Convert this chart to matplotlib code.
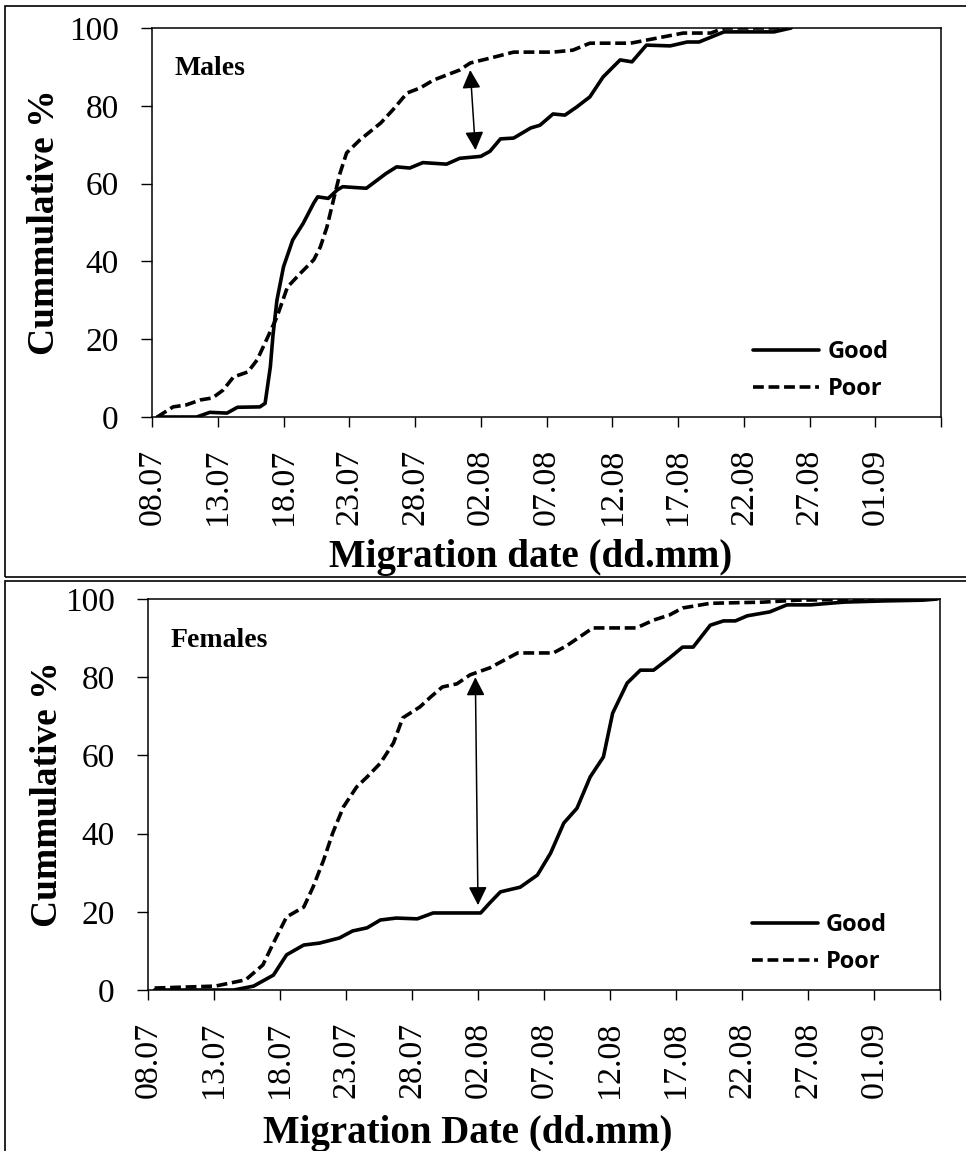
import matplotlib
matplotlib.use("Agg")
import numpy as np
import matplotlib.pyplot as plt
from matplotlib.patches import Rectangle

# days after 08.07
date_labels = ["08.07", "13.07", "18.07", "23.07", "28.07", "02.08",
               "07.08", "12.08", "17.08", "22.08", "27.08", "01.09"]

males_good_day = [0.4, 3.4, 4.4, 5.7, 6.5, 8.2, 8.6, 9.0, 9.2, 9.5, 10.0, 10.7, 11.5, 12.3,
                  12.6, 13.4, 14.1, 14.5, 16.3, 17.8, 18.6, 19.6, 20.6, 22.4, 23.4, 25.0,
                  25.7, 26.5, 27.5, 28.8, 29.5, 30.5, 31.4, 32.3, 33.3, 34.3, 35.6, 36.5,
                  37.6, 39.4, 40.7, 41.6, 43.5, 47.3, 48.6]
males_good_pct = [0, 0, 1.2, 1.0, 2.5, 2.6, 3.5, 12.9, 21, 30, 38.6, 45.5, 49.8, 55,
                  56.6, 56.2, 58.4, 59.2, 58.8, 62.6, 64.3, 64, 65.4, 65, 66.5, 67,
                  68.3, 71.5, 71.7, 74.3, 75, 77.9, 77.6, 79.7, 82.3, 87.4, 91.8, 91.3,
                  95.6, 95.4, 96.4, 96.4, 99, 99, 100]

males_poor_day = [0.4, 1.6, 2.6, 3.7, 4.6, 5.4, 6.2, 7.3, 8.0, 8.7, 9.5, 10.3, 11.3, 12.3,
                  12.8, 13.3, 13.8, 14.3, 14.8, 15.8, 17.4, 18.3, 19.4, 20.4, 21.4, 23.4,
                  24.2, 26.0, 27.5, 30.5, 32.0, 33.3, 36.4, 38.4, 40.4, 42.5, 43.5, 48.6]
males_poor_pct = [0, 2.6, 3.1, 4.4, 4.9, 6.9, 10.3, 11.6, 14.7, 19.8, 25.7, 33.4, 37, 40.4,
                  43.7, 48.8, 55.8, 62.7, 67.9, 71.2, 75.6, 78.9, 83.3, 84.6, 86.6, 89.2,
                  91, 92.5, 93.8, 93.8, 94.3, 96.1, 96.1, 97.4, 98.7, 98.7, 100, 100]

females_good_day = [0.5, 6.5, 8.0, 9.5, 10.5, 11.8, 13.0, 14.5, 15.5, 16.6, 17.6, 18.8, 20.4,
                    21.6, 25.2, 25.9, 26.7, 28.2, 29.5, 30.5, 31.5, 32.5, 33.5, 34.5, 35.2,
                    36.3, 37.3, 38.3, 39.5, 40.5, 41.3, 42.6, 43.6, 44.5, 45.4, 47.1, 48.4,
                    50.2, 52.7, 55.7, 58.7, 59.8]
females_good_pct = [0, 0, 1.0, 3.8, 9, 11.5, 12, 13.3, 15.1, 15.9, 17.9, 18.4, 18.2,
                    19.7, 19.7, 22.3, 25.1, 26.3, 29.4, 35, 42.7, 46.5, 54.5, 59.6, 70.8,
                    78.5, 81.8, 81.8, 84.9, 87.7, 87.7, 93.3, 94.4, 94.4, 95.7, 96.7, 98.5,
                    98.5, 99.2, 99.5, 99.7, 100]

females_poor_day = [0.5, 5.1, 7.4, 8.7, 9.5, 10.5, 11.8, 12.5, 13.3, 14.0, 14.8, 15.8, 16.6,
                    17.6, 18.6, 19.3, 20.6, 21.4, 22.3, 23.4, 24.4, 25.9, 28.0, 30.7, 31.7,
                    33.7, 37.0, 38.3, 39.5, 40.5, 42.6, 46.6, 49.2, 55.0]
females_poor_pct = [0.5, 1.0, 2.6, 6.4, 12, 18.7, 21.2, 26.3, 33.2, 40.2, 46.8, 51.9, 54.5,
                    58, 63.2, 69.6, 72.4, 74.9, 77.5, 78.3, 80.6, 82.4, 86.2, 86.2, 88,
                    92.6, 92.6, 94.6, 95.9, 97.7, 98.9, 99.2, 99.7, 100]

# double arrows showing the gap (x0, y0, x1, y1)
males_arrow = (24.6, 68.6, 24.2, 89.2)
females_arrow = (25.0, 21.7, 24.8, 80.0)

plt.rcParams["font.family"] = ["Liberation Serif", "DejaVu Serif"]

W, H = 966, 1151
fig = plt.figure(figsize=(W / 100, H / 100), dpi=100)

dash = (0, (3, 1.3))


def draw_panel(ax, good_x, good_y, poor_x, poor_y, arrow, sex, xlabel, xlab_pos, ylab_x):
    ax.plot(good_x, good_y, color="black", lw=2.6, label="Good",
            solid_joinstyle="round", solid_capstyle="round")
    ax.plot(poor_x, poor_y, color="black", lw=2.6, linestyle=dash, label="Poor")
    ax.annotate("", xy=(arrow[2], arrow[3]), xytext=(arrow[0], arrow[1]),
                arrowprops=dict(arrowstyle="<|-|>", color="black", lw=1.1,
                                mutation_scale=28, shrinkA=0, shrinkB=0))
    ax.set_xlim(0, 60)
    ax.set_ylim(0, 100)
    ax.set_xticks(np.arange(0, 61, 5))
    ax.set_xticklabels(date_labels + [""], rotation=90, fontsize=24.5)
    ax.set_yticks(np.arange(0, 101, 20))
    ax.tick_params(axis="y", labelsize=24, direction="out", length=8, width=1, pad=16)
    ax.tick_params(axis="x", direction="out", length=7, width=1, pad=16)
    for s in ax.spines.values():
        s.set_linewidth(1.1)
    ax.set_ylabel("Cummulative %", fontsize=27, fontweight="bold")
    ax.yaxis.set_label_coords(ylab_x, 0.5)
    ax.yaxis.label.set_va("center")
    ax.set_xlabel(xlabel, fontsize=28, fontweight="bold")
    ax.xaxis.set_label_coords(*xlab_pos)
    ax.xaxis.label.set_va("center")
    ax.text(0.028, 0.895, sex, transform=ax.transAxes, fontsize=20,
            fontweight="bold", va="center", ha="left")
    ax.legend(loc="lower left", bbox_to_anchor=(0.762, 0.04), frameon=False,
              prop={"family": "Open Sans", "weight": "bold", "size": 17},
              handlelength=2.8, handletextpad=0.35, labelspacing=0.55,
              borderpad=0, borderaxespad=0)


ax1 = fig.add_axes([152 / W, 1 - 417 / H, 789 / W, 389 / H])
draw_panel(ax1, males_good_day, males_good_pct, males_poor_day, males_poor_pct,
           males_arrow, "Males", "Migration date (dd.mm)", (0.48, -0.362), -0.136)

ax2 = fig.add_axes([148 / W, 1 - 990 / H, 792 / W, 391 / H])
draw_panel(ax2, females_good_day, females_good_pct, females_poor_day, females_poor_pct,
           females_arrow, "Females", "Migration Date (dd.mm)", (0.404, -0.368), -0.127)

# outer frames of the two panels
fig.add_artist(Rectangle((5 / W, 1 - 577 / H), 1.0, 571 / H, transform=fig.transFigure,
                         fill=False, lw=1.2, ec="black"))
fig.add_artist(Rectangle((5 / W, -0.05), 1.0, 0.05 + 1 - 581 / H, transform=fig.transFigure,
                         fill=False, lw=1.2, ec="black"))

fig.savefig("out.png", dpi=100)
